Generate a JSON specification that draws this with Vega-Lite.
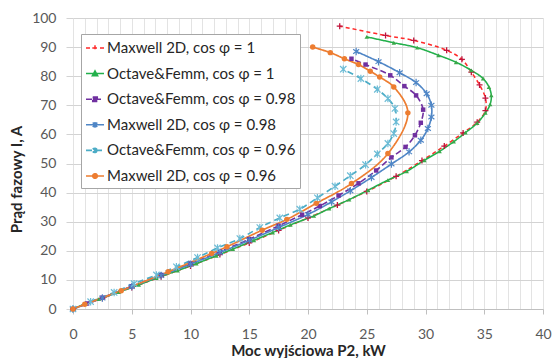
{
  "$schema": "https://vega.github.io/schema/vega-lite/v6.json",
  "width": 470,
  "height": 291,
  "autosize": {"type": "none"},
  "padding": {"left": 73, "top": 18, "right": 11, "bottom": 49},
  "background": "white",
  "config": {"view": {"stroke": null}, "font": "Lato"},
  "data": {
    "values": [
      {"s": "Maxwell 2D, cos φ = 1", "P": 0, "I": 0},
      {"s": "Maxwell 2D, cos φ = 1", "P": 2.5, "I": 3.7},
      {"s": "Maxwell 2D, cos φ = 1", "P": 5, "I": 7.4},
      {"s": "Maxwell 2D, cos φ = 1", "P": 7.5, "I": 11.1},
      {"s": "Maxwell 2D, cos φ = 1", "P": 10, "I": 14.8},
      {"s": "Maxwell 2D, cos φ = 1", "P": 12.5, "I": 18.7},
      {"s": "Maxwell 2D, cos φ = 1", "P": 15, "I": 22.7},
      {"s": "Maxwell 2D, cos φ = 1", "P": 17.5, "I": 27},
      {"s": "Maxwell 2D, cos φ = 1", "P": 20, "I": 31.3},
      {"s": "Maxwell 2D, cos φ = 1", "P": 22.5, "I": 35.7},
      {"s": "Maxwell 2D, cos φ = 1", "P": 25, "I": 40.4},
      {"s": "Maxwell 2D, cos φ = 1", "P": 27.5, "I": 45.6},
      {"s": "Maxwell 2D, cos φ = 1", "P": 29.7, "I": 51},
      {"s": "Maxwell 2D, cos φ = 1", "P": 31.6, "I": 56},
      {"s": "Maxwell 2D, cos φ = 1", "P": 33.2, "I": 60.5},
      {"s": "Maxwell 2D, cos φ = 1", "P": 34.4, "I": 64.2},
      {"s": "Maxwell 2D, cos φ = 1", "P": 35.1, "I": 68.2},
      {"s": "Maxwell 2D, cos φ = 1", "P": 35.1, "I": 72.5},
      {"s": "Maxwell 2D, cos φ = 1", "P": 34.6, "I": 77},
      {"s": "Maxwell 2D, cos φ = 1", "P": 33.9, "I": 81.4},
      {"s": "Maxwell 2D, cos φ = 1", "P": 33.1, "I": 85.8},
      {"s": "Maxwell 2D, cos φ = 1", "P": 31.8, "I": 88.9},
      {"s": "Maxwell 2D, cos φ = 1", "P": 29, "I": 92.3},
      {"s": "Maxwell 2D, cos φ = 1", "P": 26.6, "I": 94},
      {"s": "Maxwell 2D, cos φ = 1", "P": 22.7, "I": 97.2},

      {"s": "Octave&Femm, cos φ = 1", "P": 0, "I": 0},
      {"s": "Octave&Femm, cos φ = 1", "P": 1.1, "I": 1.9},
      {"s": "Octave&Femm, cos φ = 1", "P": 2.2, "I": 3.4},
      {"s": "Octave&Femm, cos φ = 1", "P": 3.9, "I": 5.8},
      {"s": "Octave&Femm, cos φ = 1", "P": 5.6, "I": 8.3},
      {"s": "Octave&Femm, cos φ = 1", "P": 7.1, "I": 10.6},
      {"s": "Octave&Femm, cos φ = 1", "P": 8.9, "I": 13.2},
      {"s": "Octave&Femm, cos φ = 1", "P": 10.5, "I": 15.6},
      {"s": "Octave&Femm, cos φ = 1", "P": 12.2, "I": 18.3},
      {"s": "Octave&Femm, cos φ = 1", "P": 13.6, "I": 20.6},
      {"s": "Octave&Femm, cos φ = 1", "P": 15.4, "I": 23.6},
      {"s": "Octave&Femm, cos φ = 1", "P": 17, "I": 26.3},
      {"s": "Octave&Femm, cos φ = 1", "P": 18.5, "I": 28.9},
      {"s": "Octave&Femm, cos φ = 1", "P": 20.5, "I": 32},
      {"s": "Octave&Femm, cos φ = 1", "P": 21.8, "I": 34.5},
      {"s": "Octave&Femm, cos φ = 1", "P": 23.5, "I": 37.6},
      {"s": "Octave&Femm, cos φ = 1", "P": 25.1, "I": 40.8},
      {"s": "Octave&Femm, cos φ = 1", "P": 26.8, "I": 44.3},
      {"s": "Octave&Femm, cos φ = 1", "P": 28.4, "I": 47.3},
      {"s": "Octave&Femm, cos φ = 1", "P": 29.9, "I": 51.1},
      {"s": "Octave&Femm, cos φ = 1", "P": 31.2, "I": 54.2},
      {"s": "Octave&Femm, cos φ = 1", "P": 32.4, "I": 57.5},
      {"s": "Octave&Femm, cos φ = 1", "P": 33.4, "I": 60.6},
      {"s": "Octave&Femm, cos φ = 1", "P": 34.4, "I": 63.9},
      {"s": "Octave&Femm, cos φ = 1", "P": 35.1, "I": 67.4},
      {"s": "Octave&Femm, cos φ = 1", "P": 35.5, "I": 70.3},
      {"s": "Octave&Femm, cos φ = 1", "P": 35.6, "I": 73.4},
      {"s": "Octave&Femm, cos φ = 1", "P": 35.4, "I": 76.3},
      {"s": "Octave&Femm, cos φ = 1", "P": 34.9, "I": 79.2},
      {"s": "Octave&Femm, cos φ = 1", "P": 33.9, "I": 82},
      {"s": "Octave&Femm, cos φ = 1", "P": 32.6, "I": 84.8},
      {"s": "Octave&Femm, cos φ = 1", "P": 31.1, "I": 87.2},
      {"s": "Octave&Femm, cos φ = 1", "P": 29.3, "I": 89.8},
      {"s": "Octave&Femm, cos φ = 1", "P": 27.3, "I": 91.5},
      {"s": "Octave&Femm, cos φ = 1", "P": 25, "I": 93.5},

      {"s": "Octave&Femm, cos φ = 0.98", "P": 0, "I": 0},
      {"s": "Octave&Femm, cos φ = 0.98", "P": 1.2, "I": 1.9},
      {"s": "Octave&Femm, cos φ = 0.98", "P": 2.5, "I": 3.9},
      {"s": "Octave&Femm, cos φ = 0.98", "P": 5, "I": 7.8},
      {"s": "Octave&Femm, cos φ = 0.98", "P": 7.5, "I": 11.7},
      {"s": "Octave&Femm, cos φ = 0.98", "P": 10, "I": 15.6},
      {"s": "Octave&Femm, cos φ = 0.98", "P": 12.5, "I": 19.7},
      {"s": "Octave&Femm, cos φ = 0.98", "P": 15, "I": 24},
      {"s": "Octave&Femm, cos φ = 0.98", "P": 17.5, "I": 28.6},
      {"s": "Octave&Femm, cos φ = 0.98", "P": 19.5, "I": 32.4},
      {"s": "Octave&Femm, cos φ = 0.98", "P": 21, "I": 35.4},
      {"s": "Octave&Femm, cos φ = 0.98", "P": 22.6, "I": 39},
      {"s": "Octave&Femm, cos φ = 0.98", "P": 24.3, "I": 43.2},
      {"s": "Octave&Femm, cos φ = 0.98", "P": 25.8, "I": 47.6},
      {"s": "Octave&Femm, cos φ = 0.98", "P": 27.1, "I": 52.1},
      {"s": "Octave&Femm, cos φ = 0.98", "P": 28.3, "I": 55.7},
      {"s": "Octave&Femm, cos φ = 0.98", "P": 29.1, "I": 59.7},
      {"s": "Octave&Femm, cos φ = 0.98", "P": 29.6, "I": 64},
      {"s": "Octave&Femm, cos φ = 0.98", "P": 29.8, "I": 68.5},
      {"s": "Octave&Femm, cos φ = 0.98", "P": 29.2, "I": 73.4},
      {"s": "Octave&Femm, cos φ = 0.98", "P": 28.2, "I": 76.6},
      {"s": "Octave&Femm, cos φ = 0.98", "P": 27, "I": 80.3},
      {"s": "Octave&Femm, cos φ = 0.98", "P": 24.9, "I": 84},
      {"s": "Octave&Femm, cos φ = 0.98", "P": 23.7, "I": 86},

      {"s": "Maxwell 2D, cos φ = 0.98", "P": 0, "I": 0},
      {"s": "Maxwell 2D, cos φ = 0.98", "P": 2.5, "I": 3.8},
      {"s": "Maxwell 2D, cos φ = 0.98", "P": 5, "I": 7.7},
      {"s": "Maxwell 2D, cos φ = 0.98", "P": 7.5, "I": 11.5},
      {"s": "Maxwell 2D, cos φ = 0.98", "P": 10, "I": 15.4},
      {"s": "Maxwell 2D, cos φ = 0.98", "P": 12.5, "I": 19.4},
      {"s": "Maxwell 2D, cos φ = 0.98", "P": 15, "I": 23.6},
      {"s": "Maxwell 2D, cos φ = 0.98", "P": 17.5, "I": 28},
      {"s": "Maxwell 2D, cos φ = 0.98", "P": 20, "I": 32.5},
      {"s": "Maxwell 2D, cos φ = 0.98", "P": 22, "I": 36.8},
      {"s": "Maxwell 2D, cos φ = 0.98", "P": 23.6, "I": 40.6},
      {"s": "Maxwell 2D, cos φ = 0.98", "P": 25.4, "I": 45.2},
      {"s": "Maxwell 2D, cos φ = 0.98", "P": 27.1, "I": 49.8},
      {"s": "Maxwell 2D, cos φ = 0.98", "P": 28.6, "I": 54},
      {"s": "Maxwell 2D, cos φ = 0.98", "P": 29.6, "I": 58},
      {"s": "Maxwell 2D, cos φ = 0.98", "P": 30.2, "I": 62},
      {"s": "Maxwell 2D, cos φ = 0.98", "P": 30.5, "I": 66},
      {"s": "Maxwell 2D, cos φ = 0.98", "P": 30.5, "I": 70},
      {"s": "Maxwell 2D, cos φ = 0.98", "P": 30.1, "I": 74},
      {"s": "Maxwell 2D, cos φ = 0.98", "P": 29.2, "I": 77.8},
      {"s": "Maxwell 2D, cos φ = 0.98", "P": 27.8, "I": 81.2},
      {"s": "Maxwell 2D, cos φ = 0.98", "P": 26, "I": 85},
      {"s": "Maxwell 2D, cos φ = 0.98", "P": 24.1, "I": 88.5},

      {"s": "Octave&Femm, cos φ = 0.96", "P": 0, "I": 0},
      {"s": "Octave&Femm, cos φ = 0.96", "P": 1.5, "I": 2.5},
      {"s": "Octave&Femm, cos φ = 0.96", "P": 3.5, "I": 5.7},
      {"s": "Octave&Femm, cos φ = 0.96", "P": 5.2, "I": 8.7},
      {"s": "Octave&Femm, cos φ = 0.96", "P": 7.1, "I": 11.7},
      {"s": "Octave&Femm, cos φ = 0.96", "P": 8.8, "I": 14.5},
      {"s": "Octave&Femm, cos φ = 0.96", "P": 10.6, "I": 17.7},
      {"s": "Octave&Femm, cos φ = 0.96", "P": 12.3, "I": 21},
      {"s": "Octave&Femm, cos φ = 0.96", "P": 14.2, "I": 24.2},
      {"s": "Octave&Femm, cos φ = 0.96", "P": 15.9, "I": 28},
      {"s": "Octave&Femm, cos φ = 0.96", "P": 17.6, "I": 31.3},
      {"s": "Octave&Femm, cos φ = 0.96", "P": 19.3, "I": 34.3},
      {"s": "Octave&Femm, cos φ = 0.96", "P": 20.8, "I": 38.2},
      {"s": "Octave&Femm, cos φ = 0.96", "P": 22.3, "I": 42.2},
      {"s": "Octave&Femm, cos φ = 0.96", "P": 23.6, "I": 45.8},
      {"s": "Octave&Femm, cos φ = 0.96", "P": 24.9, "I": 49.6},
      {"s": "Octave&Femm, cos φ = 0.96", "P": 25.9, "I": 53.3},
      {"s": "Octave&Femm, cos φ = 0.96", "P": 26.8, "I": 56.9},
      {"s": "Octave&Femm, cos φ = 0.96", "P": 27.3, "I": 60.3},
      {"s": "Octave&Femm, cos φ = 0.96", "P": 27.5, "I": 64.3},
      {"s": "Octave&Femm, cos φ = 0.96", "P": 27.4, "I": 68.9},
      {"s": "Octave&Femm, cos φ = 0.96", "P": 26.8, "I": 72.3},
      {"s": "Octave&Femm, cos φ = 0.96", "P": 25.9, "I": 75.5},
      {"s": "Octave&Femm, cos φ = 0.96", "P": 24.5, "I": 79.2},
      {"s": "Octave&Femm, cos φ = 0.96", "P": 23, "I": 82.4},

      {"s": "Maxwell 2D, cos φ = 0.96", "P": 0, "I": 0},
      {"s": "Maxwell 2D, cos φ = 0.96", "P": 1, "I": 1.6},
      {"s": "Maxwell 2D, cos φ = 0.96", "P": 4.1, "I": 6.3},
      {"s": "Maxwell 2D, cos φ = 0.96", "P": 8.1, "I": 12.8},
      {"s": "Maxwell 2D, cos φ = 0.96", "P": 11.8, "I": 19.1},
      {"s": "Maxwell 2D, cos φ = 0.96", "P": 13.1, "I": 21.4},
      {"s": "Maxwell 2D, cos φ = 0.96", "P": 16.1, "I": 27.1},
      {"s": "Maxwell 2D, cos φ = 0.96", "P": 18.2, "I": 30.8},
      {"s": "Maxwell 2D, cos φ = 0.96", "P": 20.7, "I": 36.3},
      {"s": "Maxwell 2D, cos φ = 0.96", "P": 23.7, "I": 43.1},
      {"s": "Maxwell 2D, cos φ = 0.96", "P": 26.8, "I": 53.4},
      {"s": "Maxwell 2D, cos φ = 0.96", "P": 28.5, "I": 67.4},
      {"s": "Maxwell 2D, cos φ = 0.96", "P": 27.3, "I": 76.3},
      {"s": "Maxwell 2D, cos φ = 0.96", "P": 26.1, "I": 79.7},
      {"s": "Maxwell 2D, cos φ = 0.96", "P": 25.3, "I": 81.7},
      {"s": "Maxwell 2D, cos φ = 0.96", "P": 24.3, "I": 84},
      {"s": "Maxwell 2D, cos φ = 0.96", "P": 23.1, "I": 86},
      {"s": "Maxwell 2D, cos φ = 0.96", "P": 21.9, "I": 88.1},
      {"s": "Maxwell 2D, cos φ = 0.96", "P": 20.4, "I": 90}
    ]
  },
  "encoding": {
    "x": {
      "field": "P", "type": "quantitative",
      "scale": {"domain": [0, 40], "nice": false, "zero": false},
      "axis": {
        "title": "Moc wyjściowa P2, kW",
        "values": [0,1,2,3,4,5,6,7,8,9,10,11,12,13,14,15,16,17,18,19,20,21,22,23,24,25,26,27,28,29,30,31,32,33,34,35,36,37,38,39,40],
        "labelExpr": "datum.value % 5 === 0 ? datum.label : ''",
        "labelOverlap": false,
        "labelFlush": false,
        "grid": true,
        "gridColor": "#e3e3e3",
        "gridWidth": 1,
        "domainColor": "#bfbfbf",
        "tickSize": 5,
        "tickColor": {"condition": {"test": "datum.value % 5 === 0", "value": "#bfbfbf"}, "value": "transparent"},
        "labelFont": "Lato",
        "labelFontSize": 14,
        "labelColor": "#595959",
        "labelPadding": 13,
        "titleFont": "Lato",
        "titleFontSize": 15,
        "titleFontWeight": "bold",
        "titleColor": "#262626",
        "titlePadding": 2
      }
    },
    "y": {
      "field": "I", "type": "quantitative",
      "scale": {"domain": [0, 100], "nice": false},
      "axis": {
        "title": "Prąd fazowy I, A",
        "values": [0,10,20,30,40,50,60,70,80,90,100],
        "grid": true,
        "gridColor": "#d3d3d3",
        "domain": false,
        "tickSize": 7,
        "tickColor": "#d3d3d3",
        "labelFont": "Lato",
        "labelFontSize": 14,
        "labelColor": "#595959",
        "labelPadding": 10,
        "titleFont": "Lato",
        "titleFontSize": 15,
        "titleFontWeight": "bold",
        "titleColor": "#262626",
        "titlePadding": 7,
        "titleY": 161
      }
    }
  },
  "layer": [
    {
      "mark": {"type": "line", "interpolate": "catmull-rom"},
      "encoding": {
        "order": {"field": "I", "type": "quantitative"},
        "color": {
          "field": "s", "type": "nominal",
          "scale": {
            "domain": ["Maxwell 2D, cos φ = 1", "Octave&Femm, cos φ = 1", "Octave&Femm, cos φ = 0.98", "Maxwell 2D, cos φ = 0.98", "Octave&Femm, cos φ = 0.96", "Maxwell 2D, cos φ = 0.96"],
            "range": ["#ff2a2a", "#22b04b", "#7030a0", "#4f86c6", "#4bacc6", "#ed7d31"]
          },
          "legend": {
            "title": null,
            "orient": "none",
            "legendX": 8,
            "legendY": 16,
            "direction": "vertical",
            "padding": 4,
            "rowPadding": 7.6,
            "labelFont": "Lato",
            "labelFontSize": 15,
            "labelColor": "#262626",
            "labelOffset": 2,
            "labelLimit": 300,
            "symbolSize": 324,
            "symbolStrokeWidth": 2,
            "strokeColor": "#a6a6a6",
            "fillColor": "white",
            "encode": {
              "symbols": {
                "update": {
                  "shape": {"signal": "['M-1,0H1M0,-0.3V0.3M-0.3,0H0.3', 'M-1,0H1M0,-0.3L0.3,0.25L-0.3,0.25Z', 'M-1,0H1M-0.25,-0.25H0.25V0.25H-0.25Z', 'M-1,0H1M0,-0.32V0.32M-0.25,-0.25L0.25,0.25M-0.25,0.25L0.25,-0.25', 'M-1,0H1M0,-0.32V0.32M-0.25,-0.25L0.25,0.25M-0.25,0.25L0.25,-0.25', 'M-1,0H1M0.25,0A0.25,0.25,0,1,1,-0.25,0A0.25,0.25,0,1,1,0.25,0Z'][indexof(['Maxwell 2D, cos φ = 1', 'Octave&Femm, cos φ = 1', 'Octave&Femm, cos φ = 0.98', 'Maxwell 2D, cos φ = 0.98', 'Octave&Femm, cos φ = 0.96', 'Maxwell 2D, cos φ = 0.96'], datum.value)]"},
                  "size": {"value": 324},
                  "fill": {"scale": "color", "field": "value"},
                  "stroke": {"scale": "color", "field": "value"},
                  "strokeWidth": {"value": 2}
                }
              }
            }
          }
        },
        "strokeDash": {
          "field": "s", "type": "nominal",
          "scale": {
            "domain": ["Maxwell 2D, cos φ = 1", "Octave&Femm, cos φ = 1", "Octave&Femm, cos φ = 0.98", "Maxwell 2D, cos φ = 0.98", "Octave&Femm, cos φ = 0.96", "Maxwell 2D, cos φ = 0.96"],
            "range": [[4, 3], [1, 0], [6, 3], [1, 0], [6, 4], [1, 0]]
          }
        },
        "strokeWidth": {
          "field": "s", "type": "nominal",
          "scale": {
            "domain": ["Maxwell 2D, cos φ = 1", "Octave&Femm, cos φ = 1", "Octave&Femm, cos φ = 0.98", "Maxwell 2D, cos φ = 0.98", "Octave&Femm, cos φ = 0.96", "Maxwell 2D, cos φ = 0.96"],
            "range": [1.5, 1.7, 2.6, 2, 1.7, 2]
          },
          "legend": null
        }
      }
    },
    {
      "transform": [{"filter": {"field": "s", "equal": "Maxwell 2D, cos φ = 1"}}],
      "mark": {"type": "point", "shape": "M-1,0H1M0,-1V1", "filled": false, "stroke": "#c0143c", "strokeWidth": 1.3, "size": 36, "opacity": 1}
    },
    {
      "transform": [{"filter": {"field": "s", "equal": "Octave&Femm, cos φ = 1"}}],
      "mark": {"type": "point", "shape": "triangle-up", "filled": true, "fill": "#3aa84a", "size": 20, "opacity": 1}
    },
    {
      "transform": [{"filter": {"field": "s", "equal": "Octave&Femm, cos φ = 0.98"}}],
      "mark": {"type": "point", "shape": "square", "filled": true, "fill": "#7030a0", "size": 20, "opacity": 1}
    },
    {
      "transform": [{"filter": {"field": "s", "equal": "Maxwell 2D, cos φ = 0.98"}}],
      "mark": {"type": "point", "shape": "M0,-1V1M-0.8,-0.6L0.8,0.6M-0.8,0.6L0.8,-0.6", "filled": false, "stroke": "#4f86c6", "strokeWidth": 1.2, "size": 56, "opacity": 1}
    },
    {
      "transform": [{"filter": {"field": "s", "equal": "Octave&Femm, cos φ = 0.96"}}],
      "mark": {"type": "point", "shape": "M0,-1V1M-0.85,-0.85L0.85,0.85M-0.85,0.85L0.85,-0.85", "filled": false, "stroke": "#6cbcd6", "strokeWidth": 1.2, "size": 56, "opacity": 1}
    },
    {
      "transform": [{"filter": {"field": "s", "equal": "Maxwell 2D, cos φ = 0.96"}}],
      "mark": {"type": "point", "shape": "circle", "filled": true, "fill": "#ed7d31", "size": 30, "opacity": 1}
    }
  ]
}
